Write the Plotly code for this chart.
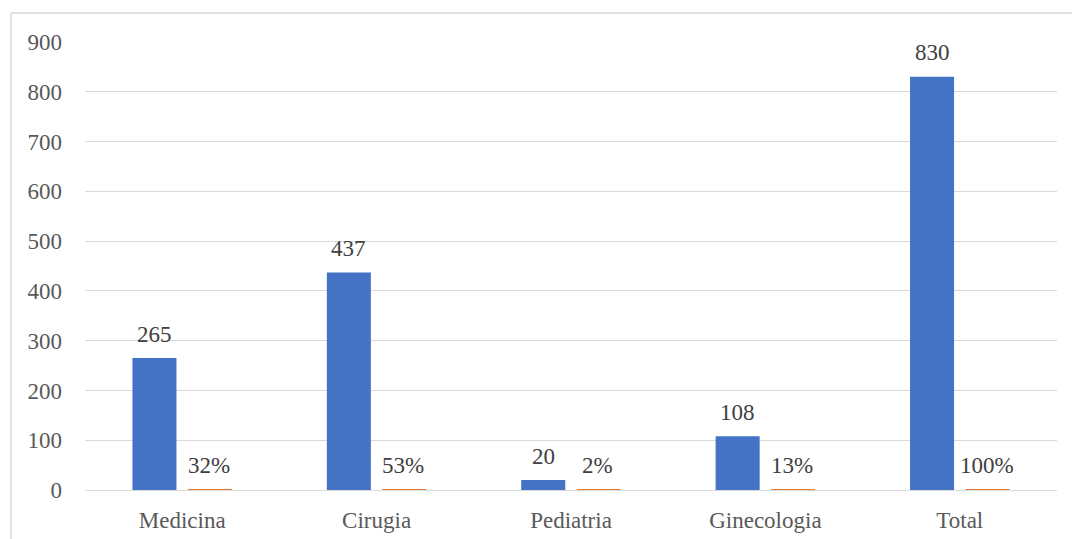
import plotly.graph_objects as go

# Servicios y número de casos
categorias = ["Medicina", "Cirugia", "Pediatria", "Ginecologia", "Total"]
casos = [265, 437, 20, 108, 830]
porcentajes = [32, 53, 2, 13, 100]  # % del total

azul = "#4472C4"
naranja = "#ED7D31"
fuente = "Liberation Serif"

fig = go.Figure()
fig.add_trace(go.Bar(
    x=categorias, y=casos, name="Casos",
    marker=dict(color=azul, line=dict(width=0)),
))
fig.add_trace(go.Bar(
    x=categorias, y=[p / 100 for p in porcentajes], name="Porcentaje",
    marker=dict(color=naranja, line=dict(width=0)),
))

# etiquetas de datos encima de cada barra
desp = 27.75
for cat, v in zip(categorias, casos):
    fig.add_annotation(x=cat, y=v, text=str(v), showarrow=False,
                       xshift=-desp, yshift=24, yanchor="middle",
                       font=dict(family=fuente, size=23, color="#404040"))
for cat, p in zip(categorias, porcentajes):
    fig.add_annotation(x=cat, y=p / 100, text=f"{p}%", showarrow=False,
                       xshift=desp - 1, yshift=24, yanchor="middle",
                       font=dict(family=fuente, size=23, color="#404040"))

# marco del área del gráfico
L, R, T, B = 85, 15, 42, 49
W, H = 1072 - L - R, 539 - T - B
fx = (11 - L) / W
fy_top = (H + T - 13) / H
fig.add_shape(type="line", xref="paper", yref="paper",
              x0=fx, x1=fx, y0=-0.2, y1=fy_top,
              line=dict(color="#D9D9D9", width=1.5))
fig.add_shape(type="line", xref="paper", yref="paper",
              x0=fx, x1=1.1, y0=fy_top, y1=fy_top,
              line=dict(color="#D9D9D9", width=1.5))

fig.update_layout(
    width=1072, height=539,
    margin=dict(l=L, r=R, t=T, b=B),
    paper_bgcolor="white", plot_bgcolor="white",
    showlegend=False,
    barmode="group", bargap=0.429, bargroupgap=0.207,
    font=dict(family=fuente, size=23, color="#595959"),
    xaxis=dict(showgrid=False, showline=False, ticks="",
               ticklabelstandoff=14, automargin=False,
               tickfont=dict(family=fuente, size=23, color="#595959")),
    yaxis=dict(range=[0, 900], dtick=100, showgrid=True,
               gridcolor="#D9D9D9", gridwidth=1.3, zeroline=True,
               zerolinecolor="#D9D9D9", zerolinewidth=1.3,
               showline=False, ticks="", ticklabelstandoff=22,
               automargin=False,
               tickfont=dict(family=fuente, size=23, color="#595959")),
)

fig.write_html("out.html")
